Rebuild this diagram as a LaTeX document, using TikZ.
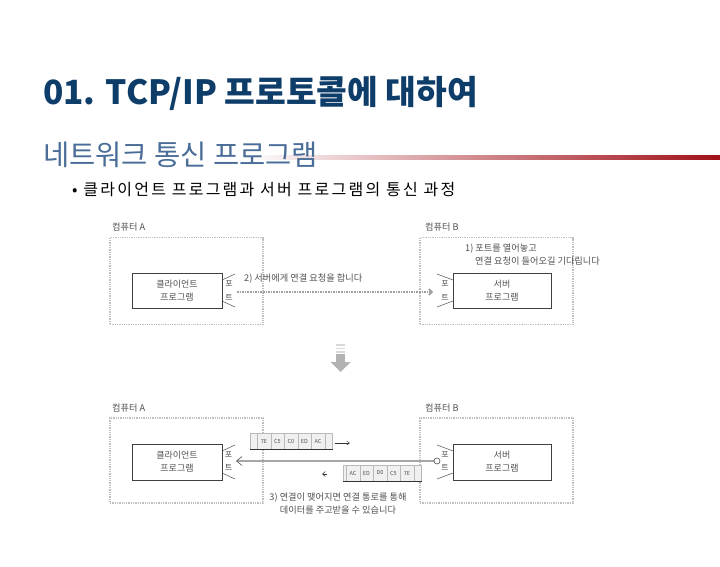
\documentclass[tikz,border=0pt]{standalone}
\usepackage{fontspec}
\setmainfont{Noto Sans CJK KR}
\usetikzlibrary{arrows.meta,positioning}
\definecolor{TitleNavy}{RGB}{14,61,106}
\definecolor{SubBlue}{RGB}{74,109,152}
\definecolor{BarRed}{RGB}{160,16,24}
\definecolor{TextGray}{RGB}{80,80,80}

\tikzset{
  compbox/.style={draw=gray!50,line width=1.3pt,densely dotted,
    minimum width=153pt,minimum height=87pt,inner sep=0pt},
  progbox/.style={draw=black!75,line width=.6pt,inner sep=0pt,
    font=\fontsize{9}{13}\selectfont,text=TextGray,align=center},
  lbl/.style={font=\fontsize{9.2}{13}\selectfont,text=TextGray,inner sep=0pt},
  portlbl/.style={font=\fontsize{8}{8}\selectfont,text=TextGray,inner sep=0pt},
  portline/.style={draw=black!70,line width=.5pt},
  cell/.style={draw=gray!55,fill=gray!12,line width=.5pt,inner sep=0pt,
    minimum width=13.5pt,minimum height=16pt,
    font=\fontsize{5.5}{6}\selectfont,text=TextGray},
  reqline/.style={draw=gray!75,line width=1.6pt,densely dotted},
  linkline/.style={draw=gray!70,line width=2.6pt},
}

\begin{document}
\begin{tikzpicture}[x=1pt,y=-1pt,>=Latex]
  \useasboundingbox (0,0) rectangle (720,567);

  % heading
  \node[anchor=west,inner sep=0pt,text=TitleNavy,
    font=\fontsize{33.4}{36}\selectfont\bfseries] (title) at (43,93)
    {01. TCP/IP 프로토콜에 대하여};
  \shade[left color=white,right color=BarRed] (245,155.5) rectangle (720,159.5);
  \node[anchor=west,inner sep=0pt,text=SubBlue,
    font=\fontsize{28.5}{31}\selectfont] (subtitle) at (43,155) {네트워크 통신 프로그램};
  \node[anchor=west,inner sep=0pt,
    font=\fontsize{16}{18}\selectfont\addfontfeatures{LetterSpace=14}] (bullet) at (72,190)
    {• 클라이언트 프로그램과 서버 프로그램의 통신 과정};

  % before the connection
  \node[lbl,anchor=west] (nameA1) at (112,227) {컴퓨터 A};
  \node[lbl,anchor=west] (nameB1) at (425,227) {컴퓨터 B};
  \node[compbox] (compA1) at (186.5,281) {};
  \node[compbox] (compB1) at (496.5,281) {};
  \node[progbox,minimum width=90pt,minimum height=35pt] (cliA1) at (177,290.5)
    {클라이언트\\프로그램};
  \node[progbox,minimum width=98pt,minimum height=35pt] (srvB1) at (502,290.5)
    {서버\\프로그램};
  \draw[portline] (222,280) -- (235,274) (222,301) -- (235,307);
  \draw[portline] (453,280) -- (437,274) (453,301) -- (437,307);
  \node[portlbl] (poA1) at (229,284) {포};
  \node[portlbl] (teA1) at (229,298) {트};
  \node[portlbl] (poB1) at (445,284) {포};
  \node[portlbl] (teB1) at (445,298) {트};
  \coordinate (portA1) at (237,292);
  \coordinate (portB1) at (433,292);
  \draw[reqline,-{Straight Barb[length=3pt,width=6pt]}] (portA1) -- (portB1);
  \node[lbl,anchor=west] (reqtxt) at (244,279) {2) 서버에게 연결 요청을 합니다};
  \node[lbl,anchor=west,align=left] (opentxt) at (465,255)
    {1) 포트를 열어놓고\\\hspace*{10pt}연결 요청이 들어오길 기다립니다};

  % arrow between the two stages
  \foreach \yy in {345,348.5,352}
    \draw[gray!30,line width=1.2pt] (336,\yy) -- (345,\yy);
  \fill[gray!60] (336,353.5) rectangle (345,362);
  \fill[gray!60] (330.5,362) -- (350.5,362) -- (340.5,372) -- cycle;

  % after the connection
  \node[lbl,anchor=west] (nameA2) at (112,408) {컴퓨터 A};
  \node[lbl,anchor=west] (nameB2) at (425,408) {컴퓨터 B};
  \node[compbox,minimum height=85pt] (compA2) at (186.5,460.5) {};
  \node[compbox,minimum height=85pt] (compB2) at (496.5,460.5) {};
  \node[progbox,minimum width=90pt,minimum height=36pt] (cliA2) at (177,462)
    {클라이언트\\프로그램};
  \node[progbox,minimum width=98pt,minimum height=36pt] (srvB2) at (502,462)
    {서버\\프로그램};
  \draw[portline] (222,451) -- (235,445) (222,473) -- (235,479);
  \draw[portline] (453,451) -- (437,445) (453,473) -- (437,479);
  \node[portlbl] (poA2) at (228.5,455) {포};
  \node[portlbl] (teA2) at (228.5,468) {트};
  \node[portlbl] (poB2) at (445,455) {포};
  \node[portlbl] (teB2) at (445,468) {트};

  % data sent
  \node[cell,minimum width=7pt] (sd0) at (253.75,441) {};
  \foreach \t [count=\i] in {7E,C5,C0,ED,AC}
    \node[cell] (sd\i) at ({250.5+13.5*\i},441) {\t};
  \node[cell,minimum width=7.5pt] (sd6) at (328.5,441) {};
  \draw[black!80,line width=.7pt] (sd0.south west) -- (sd6.south east);
  \coordinate (sdtip) at (350,443);
  \draw[black!80,-{Straight Barb[length=3pt,width=4pt]}] (335,443) -- (sdtip);

  % data received
  \node[cell,minimum width=3pt] (rv0) at (345,473) {};
  \foreach \t [count=\i] in {AC,ED,D0,C5,7E}
    \node[cell] (rv\i) at ({339.5+13.5*\i},473) {\t};
  \node[cell,minimum width=7.5pt] (rv6) at (417.5,473) {};
  \draw[black!80,line width=.7pt] (rv0.south west) -- (rv6.south east);
  \coordinate (rvtip) at (322,474);
  \draw[black!80,line width=.6pt,-{Straight Barb[length=3pt,width=5pt]}] (327,474) -- (rvtip);

  % connection
  \coordinate (portA2) at (237,461);
  \coordinate (portB2) at (437,461);
  \draw[linkline] (portA2) -- (portB2);
  \draw[black!70,line width=.6pt] (242,456.5) -- (236.5,461) -- (242,465.5);
  \draw[black!70,fill=white,line width=.6pt] (portB2) circle (3);
  \node[lbl,align=center] (linktxt) at (338,504)
    {3) 연결이 맺어지면 연결 통로를 통해\\데이터를 주고받을 수 있습니다};
\end{tikzpicture}
\end{document}
